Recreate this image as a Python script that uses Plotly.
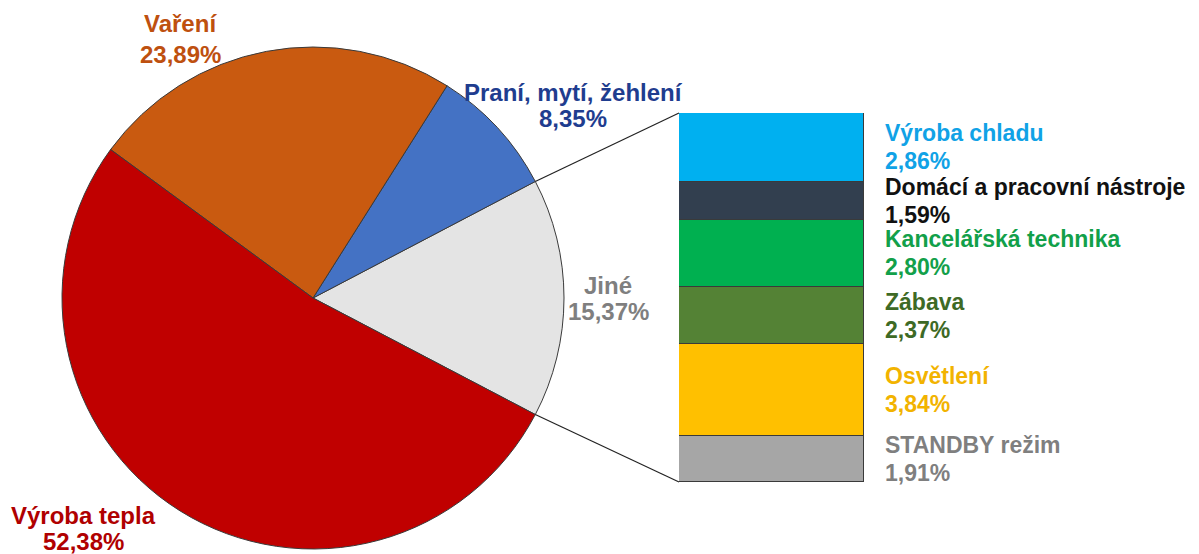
import math
import plotly.graph_objects as go

# ---- data ----
pie_labels = ["Jiné", "Praní, mytí, žehlení", "Vaření", "Výroba tepla"]
pie_values = [15.37, 8.35, 23.89, 52.38]
pie_colors = ["#E4E4E4", "#4472C4", "#C95A10", "#C00000"]
pie_text_colors = ["#7F7F7F", "#1F3D8F", "#BE500F", "#B00000"]

bar_labels = ["Výroba chladu", "Domácí a pracovní nástroje", "Kancelářská technika",
              "Zábava", "Osvětlení", "STANDBY režim"]
bar_values = [2.86, 1.59, 2.80, 2.37, 3.84, 1.91]
bar_colors = ["#00B0F0", "#323F4F", "#00B050", "#548235", "#FFC000", "#A6A6A6"]
bar_text_colors = ["#10A2E6", "#111111", "#12A04A", "#3E6A25", "#F2B300", "#7F7F7F"]


def fmt(v):
    return f"{v:.2f}".replace(".", ",") + "%"


W, H = 1199, 554
FONT = "Liberation Sans, Arial, sans-serif"

# pie geometry (pixels)
cx, cy, R = 313, 298, 251
jine_share = pie_values[0] / sum(pie_values)
half = jine_share * 360 / 2          # Jiné centred on the 3 o'clock direction

fig = go.Figure()
fig.add_trace(go.Pie(
    labels=pie_labels, values=pie_values, sort=False,
    direction="counterclockwise", rotation=90 - half,
    marker=dict(colors=pie_colors, line=dict(color="#3A3A3A", width=1)),
    textinfo="none", hoverinfo="label+percent", showlegend=False,
    domain=dict(x=[(cx - R) / W, (cx + R) / W], y=[1 - (cy + R) / H, 1 - (cy - R) / H]),
))

# stacked bar (bottom to top = reverse order)
bx0, bx1, by_top, by_bot = 679, 864, 113, 482
total = sum(bar_values)
for lab, val, col in reversed(list(zip(bar_labels, bar_values, bar_colors))):
    fig.add_trace(go.Bar(
        x=[0], y=[val], name=lab, width=1,
        marker=dict(color=col, line=dict(color="#3A3A3A", width=1)),
        xaxis="x", yaxis="y", showlegend=False, hoverinfo="name+y",
    ))

fig.update_layout(
    width=W, height=H, margin=dict(l=0, r=0, t=0, b=0),
    paper_bgcolor="white", plot_bgcolor="rgba(0,0,0,0)",
    barmode="stack", bargap=0,
    xaxis=dict(domain=[bx0 / W, bx1 / W], range=[-0.5, 0.5], visible=False, fixedrange=True),
    yaxis=dict(domain=[1 - by_bot / H, 1 - by_top / H], range=[0, total], visible=False, fixedrange=True),
    font=dict(family=FONT),
)

annotations = []
# pie labels: (x, y of name line, y of value line) in pixels
pie_label_pos = {"Vaření": (180, 24, 54), "Praní, mytí, žehlení": (573, 92, 119),
                 "Jiné": (608, 285, 311), "Výroba tepla": (83, 515, 541)}
for lab, val, tc in zip(pie_labels, pie_values, pie_text_colors):
    px, py1, py2 = pie_label_pos[lab]
    for txt, py in ((lab, py1), (fmt(val), py2)):
        annotations.append(dict(
            x=px / W, y=1 - py / H, xref="paper", yref="paper",
            text=f"<b>{txt}</b>",
            showarrow=False, xanchor="center", yanchor="middle", align="center",
            font=dict(size=24, color=tc, family=FONT),
        ))

# bar labels (two lines centred on each segment)
cum = total
for lab, val, tc in zip(bar_labels, bar_values, bar_text_colors):
    mid = cum - val / 2
    cum -= val
    for txt, shift in ((lab, 14), (fmt(val), -14)):
        annotations.append(dict(
            x=883 / W, y=mid, xref="paper", yref="y", yshift=shift,
            text=f"<b>{txt}</b>",
            showarrow=False, xanchor="left", yanchor="middle", align="left",
            font=dict(size=23, color=tc, family=FONT),
        ))
fig.update_layout(annotations=annotations)

# connector lines from the Jiné slice edges to the bar corners
shapes = []
for sign, by in ((1, by_top), (-1, by_bot)):
    a = math.radians(sign * half)
    px = cx + R * math.cos(a)
    py = cy - R * math.sin(a)
    shapes.append(dict(type="line", xref="paper", yref="paper",
                       x0=px / W, y0=1 - py / H, x1=bx0 / W, y1=1 - by / H,
                       line=dict(color="#222222", width=1.2)))
fig.update_layout(shapes=shapes)

fig.write_html("out.html", config={"displayModeBar": False},
               post_script="document.body.style.margin='0';document.body.style.overflow='hidden';")
